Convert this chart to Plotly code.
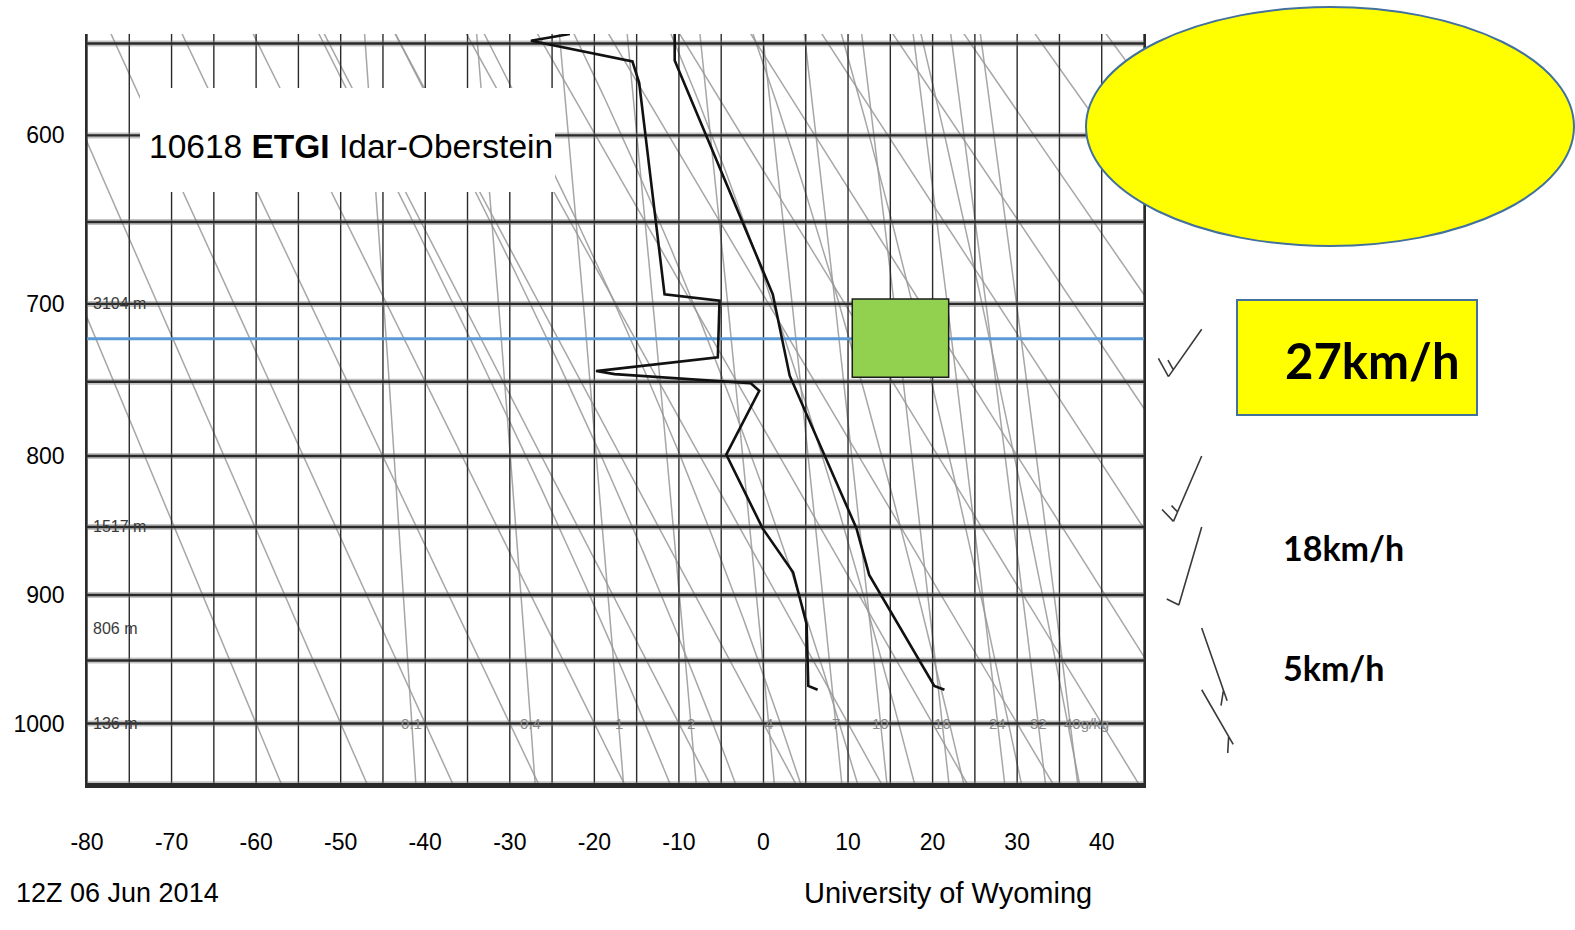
import numpy as np
import plotly.graph_objects as go

# ---------------- sounding data: 10618 ETGI Idar-Oberstein, 12Z 06 Jun 2014 ----------------
temp_p = [545, 559, 679, 694, 746, 851, 885, 970, 973]
temp_c = [-10.5, -10.5, -0.1, 1.1, 3.1, 11.0, 12.5, 20.2, 21.4]

dewp_p = [545, 548.5, 559.5, 571, 694, 698, 734, 743, 745, 751, 756, 799, 851, 883, 922, 970, 973]
dewp_c = [-22.9, -27.5, -15.5, -14.7, -11.7, -5.2, -5.4, -19.8, -17.6, -1.5, -0.5, -4.4, -0.1, 3.5, 5.1, 5.3, 6.4]

# wind barbs (pressure hPa, direction deg, speed kt)
wind_p = [716, 800, 850, 925, 973]
wind_dir = [241, 228, 217, 138, 124]
wind_kt = [15, 15, 10, 5, 5]

# background lines of the Stuve diagram
isobars = list(range(550, 1051, 50))
isotherms = list(range(-80, 46, 5))
dry_theta_c = list(range(-60, 151, 10))
moist_thetaw_c = [-14, -6, 2, 9, 16, 22, 29, 36]
mixing_ratios = [0.1, 0.4, 1, 2, 4, 7, 10, 16, 24, 32, 40]
mixing_labels = ["0.1", "0.4", "1", "2", "4", "7", "10", "16", "24", "32", "40g/kg"]

# axes labels
x_ticks = list(range(-80, 41, 10))
y_ticks = [600, 700, 800, 900, 1000]
height_p = [700, 850, 925, 1000]
height_lbl = ["3104 m", "1517 m", "806 m", "136 m"]

# highlighted layer and speed notes
highlight_p = 722
box_temp = [10.5, 21.9]
box_p = [697, 747]
speed_main = "27km/h"
speed_notes = ["18km/h", "5km/h"]

# ---------------- geometry ----------------
W, H = 1575, 930
ML, MR, MT, MB = 87, 431, 34, 145
PW, PH = W - ML - MR, H - MT - MB
KAPPA = 0.286
P_TOP, P_BOT = 545.0, 1050.6
T_MIN, T_MAX = -80, 45

SANS = "Liberation Sans, Arial, sans-serif"
BOLDFONT = "Lato, Open Sans, sans-serif"


def sy(p):
    """Stuve vertical coordinate p**(R/cp)."""
    return np.power(np.asarray(p, float), KAPPA)


def xp(px):
    return (px - ML) / PW


def yp(py):
    return (H - MB - py) / PH


def es_hpa(tc):
    return 6.112 * np.exp(17.67 * tc / (tc + 243.5))


def dewpoint_from_e(e):
    a = np.log(e / 6.112)
    return 243.5 * a / (17.67 - a)


def moist_curve(thetaw_c):
    RD, CPD, LV, EPS = 287.04, 1005.7, 2.501e6, 0.622

    def dtdp(t, p):
        es = es_hpa(t - 273.15)
        rs = EPS * es / (p - es)
        return (RD * t + LV * rs) / (CPD + LV * LV * rs * EPS / (RD * t * t)) / p

    def integrate(p_end):
        ps = np.linspace(1000.0, p_end, 200)
        ts = [thetaw_c + 273.15]
        for i in range(1, len(ps)):
            h = ps[i] - ps[i - 1]
            t, p = ts[-1], ps[i - 1]
            k1 = dtdp(t, p)
            k2 = dtdp(t + h * k1 / 2, p + h / 2)
            k3 = dtdp(t + h * k2 / 2, p + h / 2)
            k4 = dtdp(t + h * k3, p + h)
            ts.append(t + h * (k1 + 2 * k2 + 2 * k3 + k4) / 6)
        return ps, np.array(ts) - 273.15

    pu, tu = integrate(P_TOP - 5)
    pd, td = integrate(P_BOT + 5)
    p = np.concatenate([pu[::-1], pd[1:]])
    t = np.concatenate([tu[::-1], td[1:]])
    return t, p


def join(segments):
    xs, ys = [], []
    for x, y in segments:
        xs += list(x) + [None]
        ys += list(y) + [None]
    return xs, ys


fig = go.Figure()
pgrid = np.linspace(P_TOP - 5, P_BOT + 5, 80)
GRAY = "rgba(150,150,150,0.85)"

# dry adiabats
segs = []
for th in dry_theta_c:
    t = (th + 273.15) * (pgrid / 1000.0) ** KAPPA - 273.15
    segs.append((t, sy(pgrid)))
x, y = join(segs)
fig.add_trace(go.Scatter(x=x, y=y, mode="lines", line=dict(color=GRAY, width=1.5), hoverinfo="skip"))

# moist adiabats
segs = []
for tw in moist_thetaw_c:
    t, p = moist_curve(tw)
    segs.append((t, sy(p)))
x, y = join(segs)
fig.add_trace(go.Scatter(x=x, y=y, mode="lines", line=dict(color=GRAY, width=1.5), hoverinfo="skip"))

# saturation mixing ratio lines
segs = []
for w in mixing_ratios:
    e = w * pgrid / (622.0 + w)
    segs.append((dewpoint_from_e(e), sy(pgrid)))
x, y = join(segs)
fig.add_trace(go.Scatter(x=x, y=y, mode="lines", line=dict(color=GRAY, width=1.5), hoverinfo="skip"))

# isotherms (vertical)
x, y = join([([t, t], sy([P_TOP - 5, P_BOT + 5])) for t in isotherms])
fig.add_trace(go.Scatter(x=x, y=y, mode="lines", line=dict(color="#2a2a2a", width=1.4), hoverinfo="skip"))

# isobars (horizontal, soft halo + dark core)
x, y = join([([T_MIN - 5, T_MAX + 5], sy([p, p])) for p in isobars])
fig.add_trace(go.Scatter(x=x, y=y, mode="lines", line=dict(color="rgba(120,120,120,0.45)", width=6), hoverinfo="skip"))
fig.add_trace(go.Scatter(x=x, y=y, mode="lines", line=dict(color="#2a2a2a", width=2.4), hoverinfo="skip"))

# highlighted level
fig.add_trace(go.Scatter(x=[T_MIN - 0.3, T_MAX], y=sy([highlight_p, highlight_p]), mode="lines",
                         line=dict(color="#5B9BD5", width=3), hoverinfo="skip", cliponaxis=False))

# sounding
fig.add_trace(go.Scatter(x=dewp_c, y=sy(dewp_p), mode="lines", line=dict(color="#111111", width=2.6), hoverinfo="skip"))
fig.add_trace(go.Scatter(x=temp_c, y=sy(temp_p), mode="lines", line=dict(color="#111111", width=2.6), hoverinfo="skip"))

shapes = []
annotations = []

# station title on white panel
shapes.append(dict(type="rect", xref="paper", yref="paper", x0=xp(140), x1=xp(555), y0=yp(192), y1=yp(88),
                   fillcolor="white", line=dict(width=0), layer="above"))
annotations.append(dict(xref="paper", yref="paper", x=xp(147), y=yp(146), xanchor="left", yanchor="middle",
                        text="10618 <b>ETGI</b> Idar-Oberstein", showarrow=False,
                        font=dict(family=SANS, size=33.5, color="black")))

# green highlighted box and yellow callouts
shapes.append(dict(type="rect", xref="x", yref="y", x0=box_temp[0], x1=box_temp[1], y0=sy(box_p[0]), y1=sy(box_p[1]),
                   fillcolor="#92D050", line=dict(color="#1c1c1c", width=1.5), layer="above"))
shapes.append(dict(type="circle", xref="paper", yref="paper", x0=xp(1086), x1=xp(1574), y0=yp(246), y1=yp(7),
                   fillcolor="#FFFF00", line=dict(color="#41719C", width=2), layer="above"))
shapes.append(dict(type="rect", xref="paper", yref="paper", x0=xp(1237), x1=xp(1477), y0=yp(415), y1=yp(300),
                   fillcolor="#FFFF00", line=dict(color="#41719C", width=2), layer="above"))
annotations.append(dict(xref="paper", yref="paper", x=xp(1372), y=yp(360), xanchor="center", yanchor="middle",
                        text="<b>%s</b>" % speed_main, showarrow=False,
                        font=dict(family=BOLDFONT, size=49, color="black")))
for txt, py in zip(speed_notes, [547, 667]):
    annotations.append(dict(xref="paper", yref="paper", x=xp(1281), y=yp(py), xanchor="left", yanchor="middle",
                            text="<b>%s</b>" % txt, showarrow=False,
                            font=dict(family=BOLDFONT, size=34, color="black")))

# height labels of standard levels
for p, lbl in zip(height_p, height_lbl):
    annotations.append(dict(xref="x", yref="y", x=T_MIN, y=float(sy(p)), xanchor="left", yanchor="middle",
                            xshift=4, text=lbl, showarrow=False,
                            font=dict(family=SANS, size=16, color="#3a3a3a")))

# mixing ratio labels along 1000 hPa
for w, lbl in zip(mixing_ratios, mixing_labels):
    td = float(dewpoint_from_e(w * 1000.0 / (622.0 + w)))
    if lbl.endswith("g/kg"):
        annotations.append(dict(xref="x", yref="y", x=td, y=float(sy(1000)), xanchor="left", yanchor="middle",
                                xshift=-8, text=lbl, showarrow=False,
                                font=dict(family=SANS, size=15, color="#8a8a8a")))
    else:
        annotations.append(dict(xref="x", yref="y", x=td, y=float(sy(1000)), xanchor="center", yanchor="middle",
                                text=lbl, showarrow=False,
                                font=dict(family=SANS, size=15, color="#8a8a8a")))

# footer texts
annotations.append(dict(xref="paper", yref="paper", x=xp(14), y=yp(893), xanchor="left", yanchor="middle",
                        text="12Z 06 Jun 2014", showarrow=False,
                        font=dict(family=SANS, size=27, color="black")))
annotations.append(dict(xref="paper", yref="paper", x=xp(802), y=yp(893), xanchor="left", yanchor="middle",
                        text="University of Wyoming", showarrow=False,
                        font=dict(family=SANS, size=29, color="black")))

# wind barbs (drawn in pixels, display stretched vertically like the rest of the diagram)
K_STRETCH = 2.57


def barb_path(direction, speed):
    L, FULL, HALF, GAP = 38.0, 12.3, 6.5, 5.5
    d = np.radians(direction)
    ux, uy = np.sin(d), np.cos(d)
    a = np.radians(-64)
    fx, fy = ux * np.cos(a) - uy * np.sin(a), ux * np.sin(a) + uy * np.cos(a)
    segs = [((0.0, 0.0), (L * ux, L * uy))]
    n_full, half = int(speed // 10), (speed % 10) >= 5
    pos = L
    for _ in range(n_full):
        s = (pos * ux, pos * uy)
        segs.append((s, (s[0] + FULL * fx, s[1] + FULL * fy)))
        pos -= GAP
    if half:
        if n_full == 0:
            pos -= GAP
        s = (pos * ux, pos * uy)
        segs.append((s, (s[0] + HALF * fx, s[1] + HALF * fy)))
    path = ""
    for (x0, y0), (x1, y1) in segs:
        path += "M%.2f,%.2f L%.2f,%.2f " % (x0, y0 * K_STRETCH, x1, y1 * K_STRETCH)
    return path.strip()


for p, dd, sp in zip(wind_p, wind_dir, wind_kt):
    shapes.append(dict(type="path", xref="paper", yref="y", xsizemode="pixel", ysizemode="pixel",
                       xanchor=xp(1201.7), yanchor=float(sy(p)), path=barb_path(dd, sp),
                       line=dict(color="#3a3a3a", width=1.6), layer="above"))

fig.update_layout(
    width=W, height=H,
    margin=dict(l=ML, r=MR, t=MT, b=MB),
    paper_bgcolor="white", plot_bgcolor="white",
    showlegend=False,
    shapes=shapes, annotations=annotations,
    xaxis=dict(range=[T_MIN, T_MAX], tickvals=x_ticks, ticktext=[str(v) for v in x_ticks],
               showgrid=False, zeroline=False, showline=True, linecolor="#2a2a2a", linewidth=2.6,
               automargin=False, ticks="", ticklabelstandoff=35,
               tickfont=dict(family=SANS, size=23, color="black")),
    yaxis=dict(range=[float(sy(P_BOT)), float(sy(P_TOP))], tickvals=[float(v) for v in sy(y_ticks)],
               ticktext=[str(v) for v in y_ticks], showgrid=False, zeroline=False,
               showline=True, mirror=True, linecolor="#2a2a2a", linewidth=1.6,
               automargin=False, ticks="", ticklabelstandoff=16,
               tickfont=dict(family=SANS, size=23, color="black")),
)

fig.write_html("out.html")
